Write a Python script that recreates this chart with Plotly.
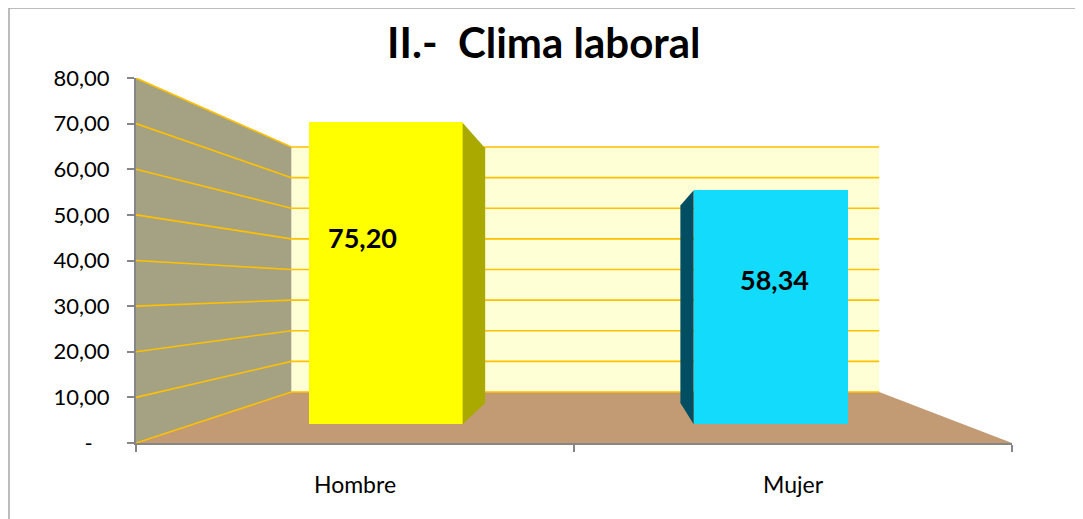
import plotly.graph_objects as go

W, H = 1083, 519
OFF = 8  # page body margin; pixel positions below are screen positions

# --- data ---
categories = ["Hombre", "Mujer"]
values = [75.20, 58.34]
value_text = ["75,20", "58,34"]
tick_vals = [0, 10, 20, 30, 40, 50, 60, 70, 80]
tick_text = ["-\u00a0\u00a0\u00a0", "10,00", "20,00", "30,00", "40,00",
             "50,00", "60,00", "70,00", "80,00"]

# --- styling ---
bar_colors = ["#ffff00", "#12dbfb"]
side_colors = ["#a9a900", "#004e62"]
WALL_LEFT = "#a4a283"
WALL_BACK = "#ffffd6"
FLOOR = "#c29b74"
GRID = "#ffc000"
AXIS = "#868686"
FONT = "Lato"

# front plane (the axis plane), in pixels
FX0, FX1 = 136, 1012
FY0, FY1 = 443, 78
VMAX = 80

# fake 3D: vanishing point in data units and depth scales
VP_C, VP_V = 0.578, 34.0
WALL_S = 0.671       # back wall, relative to front plane
BAR_S = 0.879        # bar front face plane, relative to front plane
BAR_BACK_S = 0.845   # bar back face, relative to bar front plane
BAR_W = 0.4
LABEL_DX = [-0.06, 0.01]
LABEL_FRAC = 0.62


def toward_vp(c, v, s):
    return VP_C + (c - VP_C) * s, VP_V + (v - VP_V) * s


def px(x):
    return (x - OFF) / W


def py(y):
    return 1 - (y - OFF) / H


# bar plane domain in pixels
vp_x = FX0 + (VP_C + 0.5) / 2 * (FX1 - FX0)
vp_y = FY0 - VP_V / VMAX * (FY0 - FY1)
bx0 = vp_x + (FX0 - vp_x) * BAR_S
bx1 = vp_x + (FX1 - vp_x) * BAR_S
by0 = vp_y + (FY0 - vp_y) * BAR_S
by1 = vp_y + (FY1 - vp_y) * BAR_S

fig = go.Figure()

# back wall
bw0 = toward_vp(-0.5, 0, WALL_S)
bw1 = toward_vp(1.5, VMAX, WALL_S)
fig.add_trace(go.Scatter(
    x=[bw0[0], bw1[0], bw1[0], bw0[0], bw0[0]],
    y=[bw0[1], bw0[1], bw1[1], bw1[1], bw0[1]],
    fill="toself", fillcolor=WALL_BACK, mode="lines", line=dict(width=0),
    hoverinfo="skip", showlegend=False,
))

# left wall
lt = toward_vp(-0.5, VMAX, WALL_S)
fig.add_trace(go.Scatter(
    x=[-0.5, -0.5, lt[0], bw0[0], -0.5],
    y=[0, VMAX, lt[1], bw0[1], 0],
    fill="toself", fillcolor=WALL_LEFT, mode="lines", line=dict(width=0),
    hoverinfo="skip", showlegend=False,
))

# floor
fr = toward_vp(1.5, 0, WALL_S)
fig.add_trace(go.Scatter(
    x=[-0.5, bw0[0], fr[0], 1.5, -0.5],
    y=[0, bw0[1], fr[1], 0, 0],
    fill="toself", fillcolor=FLOOR, mode="lines", line=dict(width=0),
    hoverinfo="skip", showlegend=False,
))

# gridlines on left and back walls
gx, gy = [], []
for t in tick_vals:
    a = toward_vp(-0.5, t, WALL_S)
    b = toward_vp(1.5, t, WALL_S)
    gx += [-0.5, a[0], b[0], None]
    gy += [t, a[1], b[1], None]
fig.add_trace(go.Scatter(
    x=gx, y=gy, mode="lines", line=dict(color=GRID, width=1.6),
    hoverinfo="skip", showlegend=False, cliponaxis=False,
))

# bar side faces
for i, v in enumerate(values):
    edge = i + BAR_W / 2 if i < VP_C else i - BAR_W / 2
    top = toward_vp(edge, v, BAR_BACK_S)
    bot = toward_vp(edge, 0, BAR_BACK_S)
    fig.add_trace(go.Scatter(
        x=[edge, edge, top[0], bot[0], edge],
        y=[0, v, top[1], bot[1], 0],
        fill="toself", fillcolor=side_colors[i], mode="lines", line=dict(width=0),
        xaxis="x2", yaxis="y2", hoverinfo="skip", showlegend=False,
    ))

# bar front faces
fig.add_trace(go.Bar(
    x=[0, 1], y=values, width=BAR_W,
    marker=dict(color=bar_colors, line=dict(width=0)),
    xaxis="x2", yaxis="y2", showlegend=False,
    hovertext=categories, hoverinfo="text+y",
))

for i, v in enumerate(values):
    fig.add_annotation(
        x=i + LABEL_DX[i], y=v * LABEL_FRAC, xref="x2", yref="y2",
        text=f"<b>{value_text[i]}</b>", showarrow=False,
        font=dict(family=FONT, size=27, color="black"),
    )

fig.add_annotation(
    x=px(543), y=py(42), xref="paper", yref="paper",
    text="<b>II.-\u00a0 Clima laboral</b>", showarrow=False,
    font=dict(family=FONT, size=42, color="black"),
    xanchor="center", yanchor="middle",
)

# chart border (only top/left visible in the crop)
fig.add_shape(type="rect", xref="paper", yref="paper",
              x0=px(9), y0=py(8), x1=1.05, y1=-0.05,
              line=dict(color="#a6a6a6", width=1.5), layer="above")

fig.update_layout(
    width=W, height=H, autosize=False,
    margin=dict(l=0, r=0, t=0, b=0, pad=0),
    paper_bgcolor="white", plot_bgcolor="rgba(0,0,0,0)",
    font=dict(family=FONT, color="black"),
    xaxis=dict(
        domain=[px(FX0), px(FX1)], range=[-0.5, 1.5],
        tickvals=[0, 1], ticktext=categories, ticks="",
        minor=dict(tickvals=[-0.5, 0.5, 1.5], ticks="outside",
                   ticklen=7, tickcolor=AXIS, tickwidth=1.5),
        showline=True, linecolor=AXIS, linewidth=2,
        showgrid=False, zeroline=False, fixedrange=True, automargin=False,
        tickfont=dict(size=23), ticklabelstandoff=20,
    ),
    yaxis=dict(
        domain=[py(FY0), py(FY1)], range=[0, VMAX],
        tickvals=tick_vals, ticktext=tick_text,
        ticks="outside", ticklen=7, tickcolor=AXIS, tickwidth=1.5,
        showline=True, linecolor=AXIS, linewidth=2,
        showgrid=False, zeroline=False, fixedrange=True, automargin=False,
        tickfont=dict(size=22), ticklabelstandoff=13,
    ),
    xaxis2=dict(domain=[px(bx0), px(bx1)], range=[-0.5, 1.5],
                visible=False, anchor="y2", fixedrange=True, automargin=False),
    yaxis2=dict(domain=[py(by0), py(by1)], range=[0, VMAX],
                visible=False, anchor="x2", fixedrange=True, automargin=False),
    bargap=0,
)

fig.write_html("out.html")
